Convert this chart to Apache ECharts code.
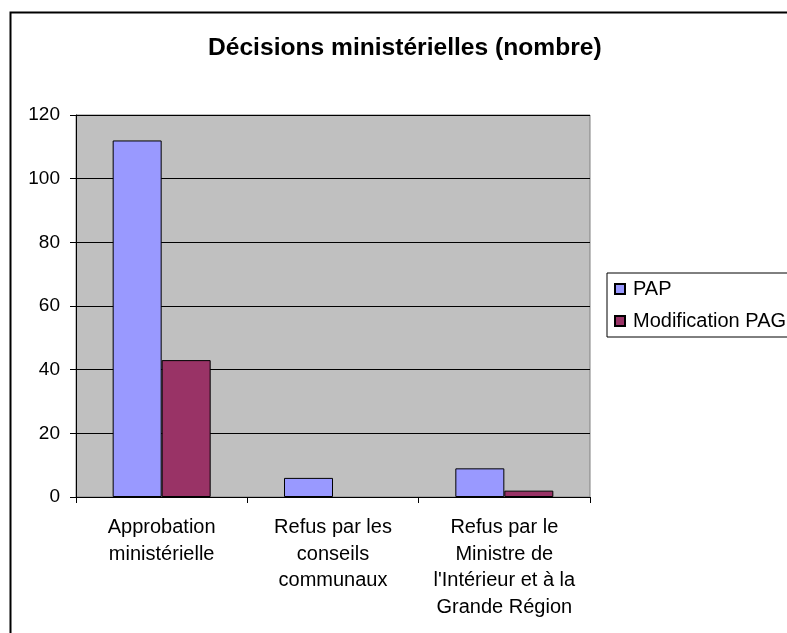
<!DOCTYPE html>
<html>
<head>
<meta charset="utf-8">
<script src="https://cdn.jsdelivr.net/npm/echarts@6/dist/echarts.min.js"></script>
<style>
html, body { margin: 0; padding: 0; background: #fff; }
#chart { width: 787px; height: 633px; }
</style>
</head>
<body>
<div id="chart"></div>
<script>
var categories = [
    'Approbation\nministérielle',
    'Refus par les\nconseils\ncommunaux',
    "Refus par le\nMinistre de\nl'Intérieur et à la\nGrande Région"
];
var papValues = [112, 6, 9];
var modifValues = [43, 0, 2];
var yTicks = [0, 20, 40, 60, 80, 100, 120];

var font = 'Arial, "Liberation Sans", sans-serif';
var myChart = echarts.init(document.getElementById('chart'));

// une barre à zéro ne doit pas afficher de contour
function toBars(values) {
    return values.map(function (v) {
        return v === 0 ? { value: v, itemStyle: { borderWidth: 0 } } : v;
    });
}

var option = {
    backgroundColor: '#fff',
    animation: false,
    title: {
        text: 'Décisions ministérielles (nombre)',
        left: 203,
        top: 31,
        textStyle: {
            fontFamily: font,
            fontSize: 24.6,
            fontWeight: 'bold',
            color: '#000'
        }
    },
    legend: {
        orient: 'vertical',
        left: 607,
        top: 273,
        padding: [6, 10, 6, 7],
        itemWidth: 10,
        itemHeight: 10,
        itemGap: 12,
        icon: 'rect',
        borderColor: '#000',
        borderWidth: 1,
        backgroundColor: '#fff',
        textStyle: {
            fontFamily: font,
            fontSize: 20,
            color: '#000',
            padding: [0, 0, 0, 3]
        },
        data: ['PAP', 'Modification PAG']
    },
    grid: {
        left: 76,
        top: 115,
        right: 197,
        bottom: 136,
        show: true,
        backgroundColor: '#c0c0c0',
        borderColor: '#808080',
        borderWidth: 1
    },
    xAxis: {
        type: 'category',
        data: categories,
        axisLine: { lineStyle: { color: '#000', width: 1 } },
        axisTick: { show: true, length: 6, lineStyle: { color: '#000' } },
        axisLabel: {
            interval: 0,
            margin: 17,
            fontFamily: font,
            fontSize: 20,
            lineHeight: 26.7,
            color: '#000'
        }
    },
    yAxis: {
        type: 'value',
        min: yTicks[0],
        max: yTicks[yTicks.length - 1],
        interval: 20,
        axisLine: { show: true, lineStyle: { color: '#000', width: 1 } },
        axisTick: { show: true, length: 6, lineStyle: { color: '#000' } },
        axisLabel: {
            margin: 16,
            fontFamily: font,
            fontSize: 19,
            color: '#000'
        },
        splitLine: { show: true, lineStyle: { color: '#000', width: 1 } }
    },
    series: [{
            name: 'PAP',
            type: 'bar',
            data: toBars(papValues),
            barWidth: 49,
            barGap: '0%',
            itemStyle: { color: '#9999ff', borderColor: '#000', borderWidth: 1 }
        },
        {
            name: 'Modification PAG',
            type: 'bar',
            data: toBars(modifValues),
            barWidth: 49,
            barGap: '0%',
            itemStyle: { color: '#993366', borderColor: '#000', borderWidth: 1 }
        }
    ],
    graphic: [{
        type: 'rect',
        left: 8,
        top: 10,
        z: -1,
        silent: true,
        shape: { width: 900, height: 900 },
        style: { fill: 'none', stroke: '#000', lineWidth: 2 }
    }]
};
myChart.setOption(option);
</script>
</body>
</html>
